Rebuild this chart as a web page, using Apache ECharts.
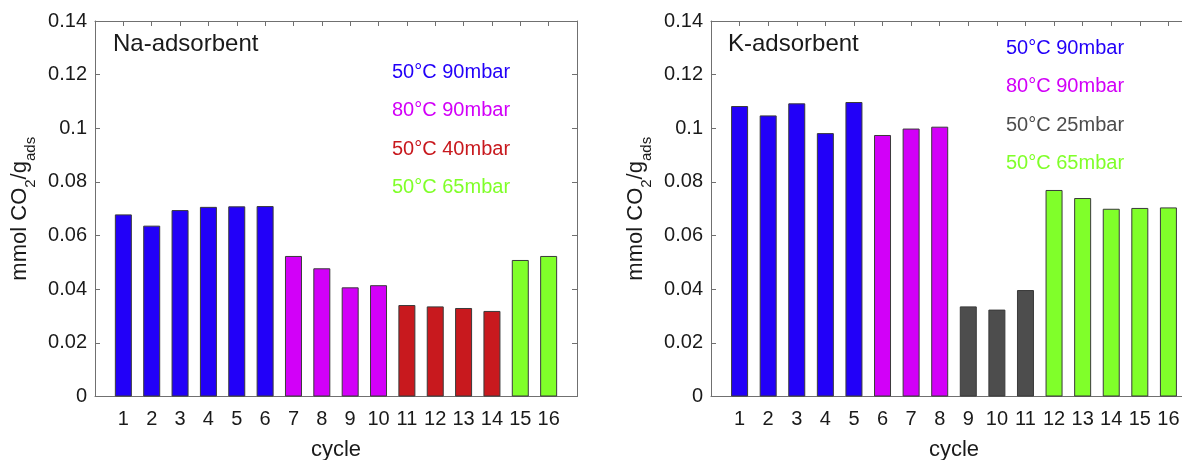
<!DOCTYPE html>
<html>
<head>
<meta charset="utf-8">
<script src="https://cdn.jsdelivr.net/npm/echarts@6/dist/echarts.min.js"></script>
<style>
  html, body { margin: 0; padding: 0; background: #fff; }
  #main { width: 1182px; height: 460px; }
</style>
</head>
<body>
<div id="main"></div>
<script>
// cycles 1..16
var cycles = [1, 2, 3, 4, 5, 6, 7, 8, 9, 10, 11, 12, 13, 14, 15, 16];

// Na-adsorbent
var naValues = [0.0679, 0.0637, 0.0695, 0.0707, 0.0709, 0.0710, 0.0524, 0.0478,
                0.0407, 0.0415, 0.0341, 0.0336, 0.0330, 0.0319, 0.0509, 0.0524];
var naGroup = [0, 0, 0, 0, 0, 0, 1, 1, 1, 1, 2, 2, 2, 2, 3, 3];
var naConditions = ['50°C 90mbar', '80°C 90mbar', '50°C 40mbar', '50°C 65mbar'];
var naColors = ['#2200F8', '#D200F8', '#C8191E', '#80FF2A'];

// K-adsorbent
var kValues = [0.1083, 0.1048, 0.1093, 0.0982, 0.1098, 0.0975, 0.0999, 0.1006,
               0.0336, 0.0324, 0.0397, 0.0770, 0.0740, 0.0700, 0.0703, 0.0705];
var kGroup = [0, 0, 0, 0, 0, 1, 1, 1, 2, 2, 2, 3, 3, 3, 3, 3];
var kConditions = ['50°C 90mbar', '80°C 90mbar', '50°C 25mbar', '50°C 65mbar'];
var kColors = ['#2200F8', '#D200F8', '#4D4D4D', '#80FF2A'];

var FONT = 'Liberation Sans, Arial, sans-serif';
var AXIS_COLOR = '#707070';
var TEXT_COLOR = '#1a1a1a';

var chart = echarts.init(document.getElementById('main'));

function barData(values, group, colors) {
    return values.map(function (v, i) {
        return {
            value: [cycles[i], v],
            itemStyle: { color: colors[group[i]] }
        };
    });
}

var yName = '{t|mmol CO}{s|2}{t|/g}{s|ads}';
var nameRich = {
    t: { fontSize: 22, fontFamily: FONT, color: TEXT_COLOR, lineHeight: 26, verticalAlign: 'top' },
    s: { fontSize: 15, fontFamily: FONT, color: TEXT_COLOR, lineHeight: 15, verticalAlign: 'top', padding: [14, 0, 0, 0] }
};

function xAxes(gridIndex) {
    return [{
        gridIndex: gridIndex, type: 'value', min: 0, max: 17, interval: 1,
        name: 'cycle', nameLocation: 'middle', nameGap: 42,
        nameTextStyle: { fontSize: 22, fontFamily: FONT, color: TEXT_COLOR },
        axisLine: { onZero: false, lineStyle: { color: AXIS_COLOR } },
        axisTick: { inside: true, length: 5, lineStyle: { color: AXIS_COLOR } },
        axisLabel: {
            fontSize: 20, fontFamily: FONT, color: TEXT_COLOR, margin: 13,
            formatter: function (v) { return (v >= 1 && v <= 16) ? String(v) : ''; }
        },
        splitLine: { show: false }
    }, {
        gridIndex: gridIndex, type: 'value', min: 0, max: 17, interval: 1, position: 'top',
        axisLine: { onZero: false, lineStyle: { color: AXIS_COLOR } },
        axisTick: { inside: true, length: 5, lineStyle: { color: AXIS_COLOR } },
        axisLabel: { show: false },
        splitLine: { show: false }
    }];
}

function yAxes(gridIndex) {
    return [{
        gridIndex: gridIndex, type: 'value', min: 0, max: 0.14, interval: 0.02,
        name: yName, nameLocation: 'middle', nameGap: 60, nameRotate: 90,
        nameTextStyle: { rich: nameRich },
        axisLine: { show: true, onZero: false, lineStyle: { color: AXIS_COLOR } },
        axisTick: { show: true, inside: true, length: 5, lineStyle: { color: AXIS_COLOR } },
        axisLabel: { fontSize: 20, fontFamily: FONT, color: TEXT_COLOR, margin: 8 },
        splitLine: { show: false }
    }, {
        gridIndex: gridIndex, type: 'value', min: 0, max: 0.14, interval: 0.02, position: 'right',
        axisLine: { show: true, onZero: false, lineStyle: { color: AXIS_COLOR } },
        axisTick: { show: true, inside: true, length: 5, lineStyle: { color: AXIS_COLOR } },
        axisLabel: { show: false },
        splitLine: { show: false }
    }];
}

function legendTexts(x, y0, labels, colors) {
    return labels.map(function (s, i) {
        return {
            type: 'text', left: x, top: y0 + i * 38.3,
            style: { text: s, fill: colors[i], font: '20px ' + FONT }
        };
    });
}

var option = {
    animation: false,
    backgroundColor: '#ffffff',
    grid: [
        { left: 95, top: 21, width: 482, height: 375.5, outerBoundsMode: 'none' },
        { left: 711, top: 21, width: 486, height: 375.5, outerBoundsMode: 'none' }
    ],
    xAxis: xAxes(0).concat(xAxes(1)),
    yAxis: yAxes(0).concat(yAxes(1)),
    series: [{
        type: 'bar', xAxisIndex: 0, yAxisIndex: 0, barWidth: 17,
        itemStyle: { borderColor: '#3a3a3a', borderWidth: 1 },
        data: barData(naValues, naGroup, naColors)
    }, {
        type: 'bar', xAxisIndex: 2, yAxisIndex: 2, barWidth: 17,
        itemStyle: { borderColor: '#3a3a3a', borderWidth: 1 },
        data: barData(kValues, kGroup, kColors)
    }],
    graphic: [
        { type: 'text', left: 113, top: 32, style: { text: 'Na-adsorbent', fill: TEXT_COLOR, font: '24px ' + FONT } },
        { type: 'text', left: 728, top: 32, style: { text: 'K-adsorbent', fill: TEXT_COLOR, font: '24px ' + FONT } }
    ].concat(legendTexts(392, 62.5, naConditions, naColors))
     .concat(legendTexts(1006, 38.5, kConditions, kColors))
};

chart.setOption(option);
</script>
</body>
</html>
